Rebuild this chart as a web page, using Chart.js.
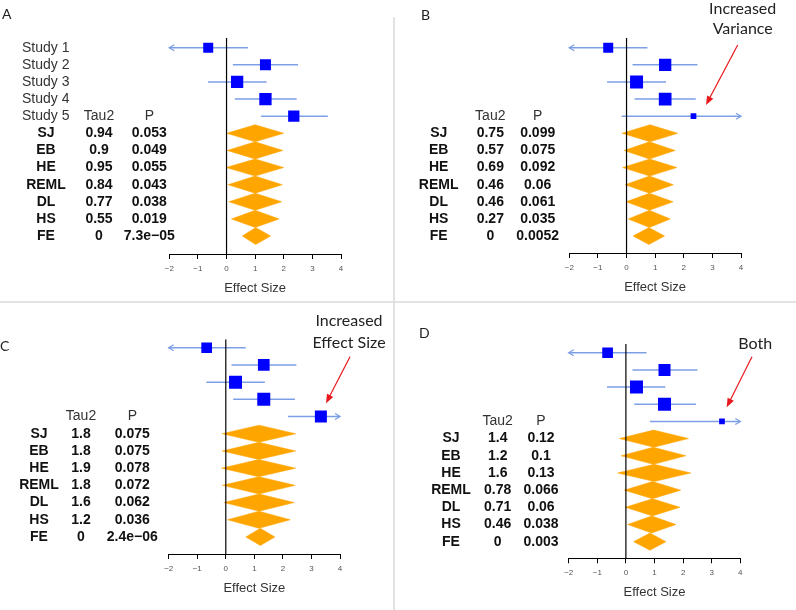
<!DOCTYPE html>
<html>
<head>
<meta charset="utf-8">
<script src="https://cdn.jsdelivr.net/npm/chart.js@4.4.0/dist/chart.umd.min.js"></script>
<style>
  body { margin: 0; background: #fff; width: 796px; height: 610px; position: relative; overflow: hidden; }
  canvas { position: absolute; }
  .sep { position: absolute; background: #e2e2e2; }
</style>
</head>
<body>
<div class="sep" style="left:393px;top:17px;width:2px;height:593px"></div>
<div class="sep" style="left:0;top:301px;width:796px;height:2px"></div>
<canvas id="chartA" width="392" height="301" style="left:0;top:0"></canvas>
<canvas id="chartB" width="400" height="301" style="left:396px;top:0"></canvas>
<canvas id="chartC" width="392" height="308" style="left:0;top:302px"></canvas>
<canvas id="chartD" width="400" height="308" style="left:396px;top:302px"></canvas>
<script>
const studies = ['Study 1', 'Study 2', 'Study 3', 'Study 4', 'Study 5'];
const methods = ['SJ', 'EB', 'HE', 'REML', 'DL', 'HS', 'FE'];
const xMin = -2, xMax = 4;

// A: baseline
const estA = [-0.64, 1.36, 0.37, 1.36, 2.35];
const loA = [-2.3, 0.22, -0.65, 0.29, 1.21];
const hiA = [0.75, 2.5, 1.4, 2.45, 3.54];
const weightA = [10, 11, 12.3, 12.3, 11.3];
const poolEstA = [1.0, 1.0, 1.0, 1.0, 1.0, 1.0, 1.02];
const poolLoA = [0.0, 0.02, -0.02, 0.05, 0.08, 0.17, 0.55];
const poolHiA = [2.0, 1.97, 2.0, 1.95, 1.93, 1.84, 1.54];
const tauA = ['0.94', '0.9', '0.95', '0.84', '0.77', '0.55', '0'];
const pA = ['0.053', '0.049', '0.055', '0.043', '0.038', '0.019', '7.3e\u221205'];

// B: increased variance
const estB = [-0.64, 1.35, 0.35, 1.35, 2.34];
const loB = [-2.3, 0.21, -0.68, 0.28, -0.17];
const hiB = [0.73, 2.48, 1.38, 2.42, 4.4];
const weightB = [10, 12.3, 13, 12.7, 5.7];
const poolEstB = [0.82, 0.8, 0.81, 0.8, 0.8, 0.8, 0.78];
const poolLoB = [-0.16, -0.09, -0.14, -0.05, -0.02, 0.06, 0.23];
const poolHiB = [1.79, 1.7, 1.76, 1.64, 1.63, 1.53, 1.33];
const tauB = ['0.75', '0.57', '0.69', '0.46', '0.46', '0.27', '0'];
const pB = ['0.099', '0.075', '0.092', '0.06', '0.061', '0.035', '0.0052'];

// C: increased effect size
const estC = [-0.67, 1.33, 0.34, 1.33, 3.33];
const loC = [-2.3, 0.2, -0.68, 0.26, 2.18];
const hiC = [0.7, 2.47, 1.37, 2.42, 4.3];
const weightC = [10.7, 11.7, 13, 13, 12];
const poolEstC = [1.16, 1.16, 1.15, 1.16, 1.17, 1.16, 1.21];
const poolLoC = [-0.13, -0.13, -0.15, -0.12, -0.07, 0.06, 0.7];
const poolHiC = [2.45, 2.45, 2.45, 2.43, 2.4, 2.26, 1.72];
const tauC = ['1.8', '1.8', '1.9', '1.8', '1.6', '1.2', '0'];
const pC = ['0.075', '0.075', '0.078', '0.072', '0.062', '0.036', '2.4e\u221206'];

// D: both
const estD = [-0.64, 1.35, 0.37, 1.35, 3.36];
const loD = [-2.3, 0.23, -0.66, 0.29, 0.84];
const hiD = [0.72, 2.5, 1.38, 2.45, 4.4];
const weightD = [10.7, 12, 13, 13, 5.7];
const poolEstD = [0.97, 0.96, 0.99, 0.93, 0.93, 0.9, 0.84];
const poolLoD = [-0.23, -0.17, -0.29, -0.06, -0.02, 0.06, 0.27];
const poolHiD = [2.19, 2.1, 2.27, 1.92, 1.89, 1.75, 1.4];
const tauD = ['1.4', '1.2', '1.6', '0.78', '0.71', '0.46', '0'];
const pD = ['0.12', '0.1', '0.13', '0.066', '0.06', '0.038', '0.003'];

const ciColor = '#7d9fe6';
const textFont = '"Liberation Sans", Arial, sans-serif';

function makePanel(id, d, lay) {
    const datasets = [];
    // reference line at zero (drawn on top)
    datasets.push({
        type: 'line',
        data: [{ x: 0, y: lay.yMin }, { x: 0, y: lay.yMax }],
        borderColor: '#000', borderWidth: 1.2, pointRadius: 0
    });
    datasets.push({
        type: 'scatter',
        data: d.est.map((v, i) => ({ x: v, y: i + 1 })),
        pointStyle: 'rect',
        pointRadius: d.weight.map(w => w / Math.SQRT2),
        backgroundColor: '#0000ff', borderWidth: 0
    });
    d.est.forEach((v, i) => {
        datasets.push({
            type: 'line',
            data: [{ x: d.lo[i], y: i + 1 }, { x: d.hi[i], y: i + 1 }],
            borderColor: ciColor, borderWidth: 1.5, pointRadius: 0
        });
    });
    methods.forEach((m, j) => {
        const r = studies.length + 1 + j;
        datasets.push({
            type: 'line',
            data: [
                { x: d.poolLo[j], y: r },
                { x: d.poolEst[j], y: r - 0.5 },
                { x: d.poolHi[j], y: r },
                { x: d.poolEst[j], y: r + 0.5 },
                { x: d.poolLo[j], y: r }
            ],
            fill: 'shape',
            backgroundColor: '#ffa500', borderColor: '#ffa500', borderWidth: 0.5,
            pointRadius: 0
        });
    });

    const textPlugin = {
        id: 'forestText',
        afterDatasetsDraw(chart) {
            const ctx = chart.ctx, xs = chart.scales.x, ys = chart.scales.y;
            ctx.save();
            ctx.strokeStyle = ciColor;
            ctx.lineWidth = 1.3;
            d.est.forEach((v, i) => {
                const y = ys.getPixelForValue(i + 1);
                if (d.lo[i] < xMin) {
                    const x = xs.getPixelForValue(xMin);
                    ctx.beginPath();
                    ctx.moveTo(x + 5, y - 3); ctx.lineTo(x, y); ctx.lineTo(x + 5, y + 3);
                    ctx.stroke();
                }
                if (d.hi[i] > xMax) {
                    const x = xs.getPixelForValue(xMax);
                    ctx.beginPath();
                    ctx.moveTo(x - 5, y - 3); ctx.lineTo(x, y); ctx.lineTo(x - 5, y + 3);
                    ctx.stroke();
                }
            });
            ctx.restore();
        },
        afterDraw(chart) {
            const ctx = chart.ctx, ys = chart.scales.y;
            ctx.save();
            ctx.textBaseline = 'middle';
            // panel letter
            ctx.font = '14px Lato, sans-serif';
            ctx.fillStyle = '#222';
            ctx.textAlign = 'left';
            ctx.fillText(lay.letter, lay.letterX, lay.letterY);
            // study labels
            ctx.font = '14px ' + textFont;
            ctx.fillStyle = '#333';
            if (lay.showStudies) {
                studies.forEach((s, i) => ctx.fillText(s, lay.studyX, ys.getPixelForValue(i + 1)));
            }
            ctx.textAlign = 'center';
            const hy = ys.getPixelForValue(studies.length);
            ctx.fillText('Tau2', lay.tauX, hy);
            ctx.fillText('P', lay.pX, hy);
            ctx.font = 'bold 14px ' + textFont;
            ctx.fillStyle = '#111';
            methods.forEach((m, j) => {
                const y = ys.getPixelForValue(studies.length + 1 + j);
                ctx.fillText(m, lay.methodX, y);
                ctx.fillText(d.tau[j], lay.tauX, y);
                ctx.fillText(d.p[j], lay.pX, y);
            });
            // annotation with arrow
            if (lay.note) {
                ctx.font = '16px Lato, sans-serif';
                ctx.fillStyle = '#222';
                lay.note.forEach((t, k) => ctx.fillText(t, lay.noteX, lay.noteY[k]));
                const [x1, y1, x2, y2] = lay.arrow;
                const ang = Math.atan2(y2 - y1, x2 - x1);
                ctx.strokeStyle = '#e8181c';
                ctx.fillStyle = '#e8181c';
                ctx.lineWidth = 1.2;
                ctx.beginPath();
                ctx.moveTo(x1, y1);
                ctx.lineTo(x2 - 7 * Math.cos(ang), y2 - 7 * Math.sin(ang));
                ctx.stroke();
                ctx.beginPath();
                ctx.moveTo(x2, y2);
                ctx.lineTo(x2 - 9 * Math.cos(ang) + 3.5 * Math.sin(ang), y2 - 9 * Math.sin(ang) - 3.5 * Math.cos(ang));
                ctx.lineTo(x2 - 9 * Math.cos(ang) - 3.5 * Math.sin(ang), y2 - 9 * Math.sin(ang) + 3.5 * Math.cos(ang));
                ctx.closePath();
                ctx.fill();
            }
            ctx.restore();
        }
    };

    new Chart(document.getElementById(id), {
        type: 'scatter',
        data: { datasets: datasets },
        options: {
            responsive: false,
            animation: false,
            events: [],
            devicePixelRatio: 1,
            layout: { padding: lay.padding },
            plugins: { legend: { display: false }, tooltip: { enabled: false } },
            scales: {
                x: {
                    type: 'linear', min: xMin, max: xMax,
                    afterFit: s => { s.height = 46; },
                    border: { display: true, color: '#000', width: 1 },
                    grid: { drawOnChartArea: false, drawTicks: true, tickLength: 5, color: '#000', tickColor: '#000' },
                    ticks: {
                        stepSize: 1, padding: 5, color: '#555',
                        font: { size: 8, family: textFont },
                        callback: v => String(v).replace('-', '\u2212')
                    },
                    title: {
                        display: true, text: 'Effect Size', color: '#333',
                        font: { size: 13, family: textFont },
                        padding: { top: 0, bottom: 4 }
                    }
                },
                y: { type: 'linear', display: false, reverse: true, min: lay.yMin, max: lay.yMax }
            }
        },
        plugins: [textPlugin]
    });
}

makePanel('chartA',
    { est: estA, lo: loA, hi: hiA, weight: weightA, poolEst: poolEstA, poolLo: poolLoA, poolHi: poolHiA, tau: tauA, p: pA },
    { padding: { left: 169.3, right: 51, top: 38, bottom: 1 }, yMin: 0.434, yMax: 13.05,
      showStudies: true, studyX: 22, methodX: 46, tauX: 99, pX: 149.3,
      letter: 'A', letterX: 2, letterY: 14 });

makePanel('chartB',
    { est: estB, lo: loB, hi: hiB, weight: weightB, poolEst: poolEstB, poolLo: poolLoB, poolHi: poolHiB, tau: tauB, p: pB },
    { padding: { left: 173.3, right: 55, top: 38, bottom: 2 }, yMin: 0.434, yMax: 12.99,
      showStudies: false, methodX: 42.7, tauX: 94.3, pX: 141.7,
      letter: 'B', letterX: 25, letterY: 15,
      note: ['Increased', 'Variance'], noteX: 346.7, noteY: [9, 29], arrow: [341.7, 45, 310, 105] });

makePanel('chartC',
    { est: estC, lo: loC, hi: hiC, weight: weightC, poolEst: poolEstC, poolLo: poolLoC, poolHi: poolHiC, tau: tauC, p: pC },
    { padding: { left: 168.7, right: 52, top: 37.3, bottom: 10 }, yMin: 0.51, yMax: 12.99,
      showStudies: false, methodX: 39, tauX: 81, pX: 132.3,
      letter: 'C', letterX: 0, letterY: 44,
      note: ['Increased', 'Effect Size'], noteX: 349, noteY: [19, 40.5], arrow: [350, 54.7, 326, 101.3] });

makePanel('chartD',
    { est: estD, lo: loD, hi: hiD, weight: weightD, poolEst: poolEstD, poolLo: poolLoD, poolHi: poolHiD, tau: tauD, p: pD },
    { padding: { left: 172.7, right: 55.7, top: 42, bottom: 5.7 }, yMin: 0.49, yMax: 12.97,
      showStudies: false, methodX: 55, tauX: 101.7, pX: 145,
      letter: 'D', letterX: 23, letterY: 31,
      note: ['Both'], noteX: 359.2, noteY: [41.8], arrow: [356, 54.7, 330.7, 105.3] });
</script>
</body>
</html>
